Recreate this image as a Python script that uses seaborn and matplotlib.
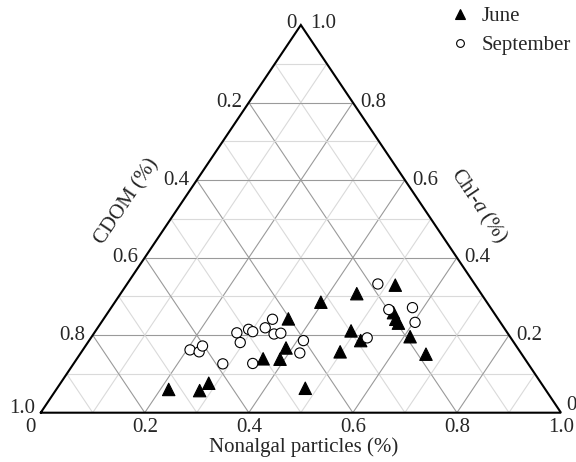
import numpy as np
import pandas as pd
import matplotlib
matplotlib.use("Agg")
import matplotlib.pyplot as plt
import seaborn as sns

# ---------------- data (fractions) ----------------
june_nap = [0.216, 0.277, 0.285, 0.477, 0.355, 0.388, 0.358, 0.391, 0.396, 0.454,
            0.517, 0.491, 0.522, 0.497, 0.549, 0.562, 0.572, 0.612, 0.665]
june_chl = [0.060, 0.057, 0.076, 0.063, 0.242, 0.167, 0.139, 0.138, 0.285, 0.307,
            0.329, 0.211, 0.186, 0.157, 0.258, 0.241, 0.231, 0.196, 0.151]
june_cdom = [0.724, 0.666, 0.639, 0.460, 0.403, 0.445, 0.503, 0.471, 0.319, 0.239,
             0.154, 0.298, 0.292, 0.346, 0.193, 0.197, 0.197, 0.192, 0.184]

sep_nap = [0.206, 0.226, 0.225, 0.287, 0.274, 0.293, 0.292, 0.303, 0.344, 0.322,
           0.325, 0.347, 0.359, 0.412, 0.421, 0.531, 0.482, 0.536, 0.579, 0.603]
sep_chl = [0.162, 0.157, 0.172, 0.126, 0.206, 0.181, 0.215, 0.209, 0.127, 0.219,
           0.241, 0.203, 0.205, 0.186, 0.154, 0.193, 0.332, 0.266, 0.271, 0.233]
sep_cdom = [0.632, 0.617, 0.603, 0.587, 0.520, 0.526, 0.493, 0.488, 0.529, 0.459,
            0.434, 0.450, 0.436, 0.402, 0.425, 0.276, 0.186, 0.198, 0.150, 0.164]

months = ["June", "September"]
tick_vals = [0.0, 0.2, 0.4, 0.6, 0.8, 1.0]
tick_labels = ["0", "0.2", "0.4", "0.6", "0.8", "1.0"]
axis_titles = {"bottom": "Nonalgal particles (%)", "left": "CDOM (%)",
               "right": r"Chl-$\mathit{a}$ (%)"}

# ---------------- style ----------------
sns.set_style("white")
plt.rcParams["font.family"] = ["Liberation Serif", "DejaVu Serif"]
plt.rcParams["mathtext.fontset"] = "custom"
plt.rcParams["mathtext.rm"] = "Liberation Serif"
plt.rcParams["mathtext.it"] = "Liberation Serif:italic"
FS = 15

W, H, DPI = 576, 462, 100
fig = plt.figure(figsize=(W / DPI, H / DPI), dpi=DPI)
x0, y0, x1, y1 = 40.7, 412.7, 561.0, 25.0   # pixel positions of triangle
ax = fig.add_axes([x0 / W, 1 - y0 / H, (x1 - x0) / W, (y0 - y1) / H])
ax.set_xlim(0, 1)
ax.set_ylim(0, 1)
ax.axis("off")

def cart(nap, chl):
    nap = np.asarray(nap, float)
    chl = np.asarray(chl, float)
    return nap + chl / 2.0, chl

# ---------------- grid ----------------
for i in range(1, 10):
    v = i / 10
    major = (i % 2 == 0)
    col = "#9a9a9a" if major else "#dadada"
    lw = 0.8
    ax.plot([v / 2, 1 - v / 2], [v, v], color=col, lw=lw, zorder=1)
    xa, ya = cart([v, v], [0, 1 - v])
    ax.plot(xa, ya, color=col, lw=lw, zorder=1)
    xb, yb = cart([1 - v, 0], [0, 1 - v])
    ax.plot(xb, yb, color=col, lw=lw, zorder=1)

# triangle outline
ax.plot([0, 1, 0.5, 0], [0, 0, 1, 0], color="black", lw=1.5, zorder=3,
        solid_joinstyle="miter", clip_on=False)

# ---------------- data points ----------------
df = pd.DataFrame({
    "nap": june_nap + sep_nap,
    "chl": june_chl + sep_chl,
    "cdom": june_cdom + sep_cdom,
    "Month": [months[0]] * len(june_nap) + [months[1]] * len(sep_nap),
})
df["x"], df["y"] = cart(df["nap"], df["chl"])

sns.scatterplot(data=df, x="x", y="y", hue="Month", style="Month", size="Month",
                palette={"June": "black", "September": "white"},
                markers={"June": "^", "September": "o"},
                sizes={"June": 80, "September": 54},
                edgecolor="black", linewidth=0.8, ax=ax, zorder=4, clip_on=False)

old = ax.get_legend()
handles = old.legend_handles
labels = [t.get_text() for t in old.texts]
old.remove()
for h in handles:
    h.set_markeredgecolor("black")
    h.set_markeredgewidth(0.8)
ax.legend(handles, labels, loc="upper left",
          bbox_to_anchor=(449.5 / W, 1 - 6.5 / H), bbox_transform=fig.transFigure,
          frameon=False, fontsize=FS, markerscale=0.76, handlelength=1.0,
          handletextpad=0.55, borderpad=0, borderaxespad=0, labelspacing=0.45)

# ---------------- tick labels ----------------
PX = 0.72  # points per pixel
def lab(x, y, s, dx, dy, ha, va="center"):
    ax.annotate(s, (x, y), xytext=(dx * PX, dy * PX), textcoords="offset points",
                ha=ha, va=va, fontsize=FS, annotation_clip=False)

for v, s in zip(tick_vals, tick_labels):
    dx = -10.5 if v == 0 else 0
    lab(v, 0, s, dx, -15, "center")
for v, s in zip(tick_vals, tick_labels):
    xx, yy = cart(0, 1 - v)
    if v == 0:
        lab(float(xx), float(yy), s, -4, 2, "right")
    elif v == 1.0:
        lab(float(xx), float(yy), s, -5.5, 4.5, "right")
    else:
        lab(float(xx), float(yy), s, -7, 0, "right")
for v, s in zip(tick_vals, tick_labels):
    xx, yy = cart(1 - v, v)
    if v == 1.0:
        lab(float(xx), float(yy), s, 9, 2, "left")
    elif v == 0:
        lab(float(xx), float(yy), s, 5.5, 7, "left")
    else:
        lab(float(xx), float(yy), s, 7, 0, "left")

# ---------------- axis titles ----------------
def pix2data(px, py):
    return (px - x0) / (x1 - x0), (y0 - py) / (y0 - y1)

ang = np.degrees(np.arctan2(y0 - y1, (x1 - x0) / 2))
bx, by = pix2data(303.7, 447)
ax.text(bx, by, axis_titles["bottom"], ha="center", va="center", fontsize=FS)
lx, ly = pix2data(127, 202)
ax.text(lx, ly, axis_titles["left"], ha="center", va="center", fontsize=FS,
        rotation=ang, rotation_mode="anchor")
rx, ry = pix2data(478, 206)
ax.text(rx, ry, axis_titles["right"], ha="center", va="center", fontsize=FS,
        rotation=-ang, rotation_mode="anchor")

fig.savefig("out.png", dpi=DPI)
